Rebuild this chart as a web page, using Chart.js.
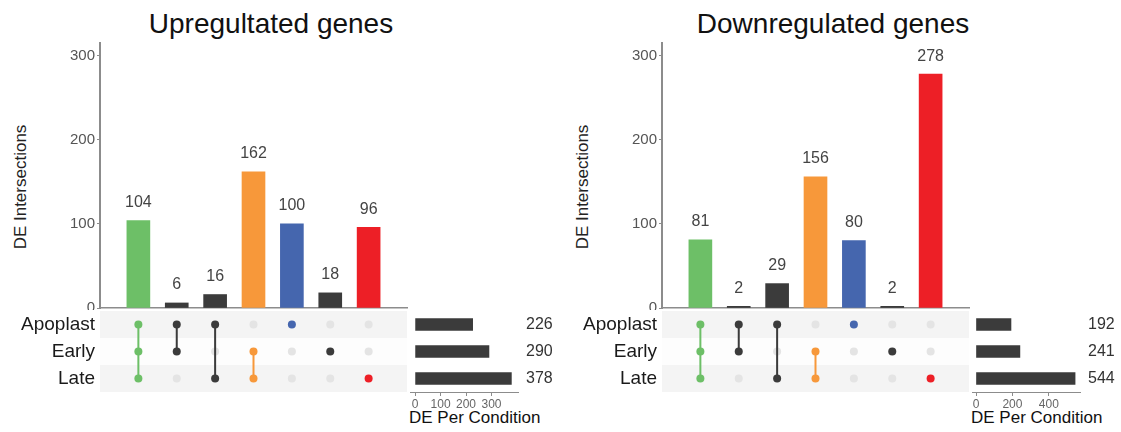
<!DOCTYPE html>
<html>
<head>
<meta charset="utf-8">
<script src="https://cdn.jsdelivr.net/npm/chart.js@4.4.1/dist/chart.umd.min.js"></script>
<style>
  body { margin: 0; background: #fff; font-family: Arial, 'Liberation Sans', sans-serif; }
  #wrap { position: relative; width: 1121px; height: 432px; overflow: hidden; }
  canvas, .txt { position: absolute; }
  .txt { white-space: nowrap; }
  .title { font-size: 28px; line-height: 28px; color: #111; top: 10px; transform: translateX(-50%); }
  .ytitle { font-size: 17px; line-height: 20px; color: #222; transform: translate(-50%, -50%) rotate(-90deg); }
  .xtitle { font-size: 17px; line-height: 20px; color: #111; }
</style>
</head>
<body>
<div id="wrap"></div>
<script>
// sets and intersections (columns left to right)
const setNames = ['Apoplast', 'Early', 'Late'];
const intersections = [
  ['Apoplast', 'Early', 'Late'],
  ['Apoplast', 'Early'],
  ['Apoplast', 'Late'],
  ['Early', 'Late'],
  ['Apoplast'],
  ['Early'],
  ['Late']
];
const barColors = ['#6dbf67', '#3b3b3b', '#3b3b3b', '#f7983a', '#4566ae', '#3b3b3b', '#ed1f26'];

const upCounts = [104, 6, 16, 162, 100, 18, 96];
const downCounts = [81, 2, 29, 156, 80, 2, 278];
const upSetSizes = [226, 290, 378];
const downSetSizes = [192, 241, 544];

const countTicks = [0, 100, 200, 300];
const upSizeTicks = [0, 100, 200, 300];
const downSizeTicks = [0, 200, 400];

const FONT = "Arial, 'Liberation Sans', sans-serif";
const AXIS = '#8c8c8c';
const wrap = document.getElementById('wrap');

function addCanvas(left, top, w, h) {
  const c = document.createElement('canvas');
  c.width = w; c.height = h;
  c.style.left = left + 'px'; c.style.top = top + 'px';
  c.style.width = w + 'px'; c.style.height = h + 'px';
  wrap.appendChild(c);
  return c;
}

function addText(cls, text, left, top) {
  const d = document.createElement('div');
  d.className = 'txt ' + cls;
  d.textContent = text;
  d.style.left = left + 'px'; d.style.top = top + 'px';
  wrap.appendChild(d);
}

// numbers above the intersection bars
const barLabels = {
  id: 'barLabels',
  afterDatasetsDraw(chart) {
    const ctx = chart.ctx;
    const ds = chart.data.datasets[0];
    ctx.save();
    ctx.font = '16px ' + FONT;
    ctx.fillStyle = '#444';
    ctx.textAlign = 'center';
    ctx.textBaseline = 'middle';
    chart.getDatasetMeta(0).data.forEach((bar, i) => {
      ctx.fillText(String(ds.data[i].y), bar.x, bar.y - 18);
    });
    ctx.restore();
  }
};

// numbers right of the set size bars
const sizeLabels = {
  id: 'sizeLabels',
  afterDatasetsDraw(chart) {
    const ctx = chart.ctx;
    const ds = chart.data.datasets[0];
    ctx.save();
    ctx.font = '16px ' + FONT;
    ctx.fillStyle = '#333';
    ctx.textAlign = 'left';
    ctx.textBaseline = 'middle';
    chart.getDatasetMeta(0).data.forEach((bar, i) => {
      ctx.fillText(String(ds.data[i]), chart.chartArea.right + 8, bar.y);
    });
    ctx.restore();
  }
};

// alternating row bands behind the matrix
const rowBands = {
  id: 'rowBands',
  beforeDatasetsDraw(chart) {
    const ctx = chart.ctx;
    const area = chart.chartArea;
    const y = chart.scales.y;
    const h = (area.bottom - area.top) / setNames.length;
    ctx.save();
    setNames.forEach((s, i) => {
      ctx.fillStyle = i % 2 === 0 ? '#f4f4f4' : '#fdfdfd';
      const cy = y.getPixelForValue(i);
      ctx.fillRect(area.left, cy - h / 2, area.right - area.left, h);
    });
    ctx.restore();
  }
};

function drawPanel(dx, title, counts, sizes, sizeTicks, sizeMin, sizeMax) {
  addText('title', title, 271 + dx, 10);
  addText('ytitle', 'DE Intersections', 21 + dx, 187);
  addText('xtitle', 'DE Per Condition', 409 + dx, 408);

  // intersection size bars
  new Chart(addCanvas(dx + 40, 35, 380, 275), {
    type: 'bar',
    data: {
      datasets: [{
        data: counts.map((v, i) => ({ x: i + 1, y: v })),
        backgroundColor: barColors,
        barThickness: 23
      }]
    },
    options: {
      responsive: false,
      animation: false,
      layout: { padding: { top: 8, right: 13, bottom: 2, left: 0 } },
      plugins: { legend: { display: false }, tooltip: { enabled: false } },
      scales: {
        x: {
          type: 'linear', min: 0, max: 8, offset: false,
          grid: { display: false },
          ticks: { display: false },
          border: { color: AXIS, width: 1.5 },
          afterFit: s => { s.height = 0; s.paddingLeft = 0; s.paddingRight = 0; }
        },
        y: {
          min: 0, max: 315,
          grid: { drawOnChartArea: false, tickLength: 3, color: AXIS },
          border: { color: AXIS, width: 2 },
          ticks: { font: { family: FONT, size: 15 }, color: '#555', padding: 2 },
          afterBuildTicks: s => { s.ticks = countTicks.map(v => ({ value: v })); },
          afterFit: s => { s.width = 60; s.paddingTop = 0; s.paddingBottom = 0; }
        }
      }
    },
    plugins: [barLabels]
  });

  // membership matrix: connected dots first, empty grey dots last (drawn underneath)
  const datasets = [];
  intersections.forEach((members, i) => {
    datasets.push({
      data: members.map(s => ({ x: i + 1, y: s })),
      showLine: true, borderColor: barColors[i], borderWidth: 2,
      pointRadius: 4, pointBackgroundColor: barColors[i], pointBorderWidth: 0
    });
  });
  const empty = [];
  intersections.forEach((members, i) => {
    setNames.forEach(s => { if (!members.includes(s)) empty.push({ x: i + 1, y: s }); });
  });
  datasets.push({
    data: empty, showLine: false,
    pointRadius: 4, pointBackgroundColor: '#e4e4e4', pointBorderWidth: 0
  });
  new Chart(addCanvas(dx, 311, 407, 81), {
    type: 'scatter',
    data: { datasets },
    options: {
      responsive: false,
      animation: false,
      layout: { padding: 0, autoPadding: false },
      plugins: { legend: { display: false }, tooltip: { enabled: false } },
      scales: {
        x: { type: 'linear', min: 0, max: 8, display: false },
        y: {
          type: 'category', labels: setNames, offset: true,
          grid: { display: false, tickLength: 0 },
          border: { display: false },
          ticks: { font: { family: FONT, size: 19 }, color: '#1a1a1a', padding: 5, autoSkip: false },
          afterFit: s => { s.width = 100; s.paddingTop = 0; s.paddingBottom = 0; }
        }
      }
    },
    plugins: [rowBands]
  });

  // set sizes
  new Chart(addCanvas(dx + 410, 311, 150, 112), {
    type: 'bar',
    data: {
      labels: setNames,
      datasets: [{ data: sizes, backgroundColor: '#3b3b3b', barThickness: 12 }]
    },
    options: {
      indexAxis: 'y',
      responsive: false,
      animation: false,
      layout: { padding: { left: 0, right: 42, top: 0, bottom: 0 } },
      plugins: { legend: { display: false }, tooltip: { enabled: false } },
      scales: {
        y: { display: false },
        x: {
          min: sizeMin, max: sizeMax,
          grid: { drawOnChartArea: false, tickLength: 4, color: AXIS },
          border: { color: AXIS },
          ticks: { font: { family: FONT, size: 12 }, color: '#666', padding: 1, autoSkip: false, maxRotation: 0 },
          afterBuildTicks: s => { s.ticks = sizeTicks.map(v => ({ value: v })); },
          afterFit: s => { s.height = 31; s.paddingLeft = 0; s.paddingRight = 0; }
        }
      }
    },
    plugins: [sizeLabels]
  });
}

drawPanel(0, 'Upregultated genes', upCounts, upSetSizes, upSizeTicks, -20, 404);
drawPanel(562, 'Downregulated genes', downCounts, downSetSizes, downSizeTicks, -22, 571);
</script>
</body>
</html>
